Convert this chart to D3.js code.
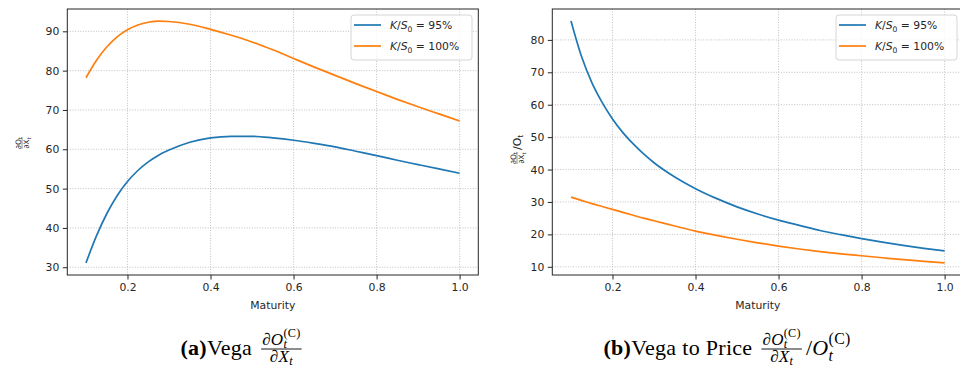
<!DOCTYPE html>
<html>
<head>
<meta charset="utf-8">
<script src="https://cdn.jsdelivr.net/npm/d3@7"></script>
<style>
    body { margin: 0; background: #fff; }
    svg { display: block; }
    text { font-family: "DejaVu Sans", sans-serif; fill: #262626; }
    .cap text { font-family: "Liberation Serif", serif; fill: #000; letter-spacing: 0.3px; }
</style>
</head>
<body>
<svg id="chart" width="960" height="367"></svg>
<script>
// values
const maturity = [0.1, 0.125, 0.15, 0.175, 0.2, 0.225, 0.25, 0.275, 0.3, 0.35, 0.4, 0.45, 0.5, 0.55, 0.6, 0.65, 0.7, 0.75, 0.8, 0.85, 0.9, 0.95, 1.0]

const vegaK95  = [31.1, 37.9, 43.6, 48.2, 51.8, 54.6, 56.8, 58.5, 59.8, 61.8, 62.9, 63.3, 63.3, 62.9, 62.3, 61.5, 60.6, 59.5, 58.4, 57.2, 56.1, 55.0, 53.9]
const vegaK100 = [78.2, 82.6, 86.0, 88.6, 90.4, 91.6, 92.3, 92.6, 92.5, 91.8, 90.5, 89.0, 87.3, 85.3, 83.1, 80.9, 78.8, 76.7, 74.7, 72.7, 70.8, 69.0, 67.2]

const ratioK95  = [85.8, 75.0, 66.9, 60.7, 55.6, 51.4, 47.9, 44.8, 42.1, 37.7, 34.1, 31.1, 28.5, 26.3, 24.4, 22.8, 21.2, 19.9, 18.7, 17.6, 16.6, 15.7, 14.9]
const ratioK100 = [31.5, 30.5, 29.5, 28.6, 27.7, 26.8, 25.9, 25.0, 24.2, 22.6, 21.0, 19.7, 18.5, 17.4, 16.4, 15.5, 14.7, 14.0, 13.4, 12.8, 12.2, 11.7, 11.2]

const seriesNames = ["95%", "100%"]
const xTicks = [0.2, 0.4, 0.6, 0.8, 1.0]
const yTicksVega = [30, 40, 50, 60, 70, 80, 90]
const yTicksRatio = [10, 20, 30, 40, 50, 60, 70, 80]

const colors = ["#1f77b4", "#ff7f0e"]

const svg = d3.select('#chart')

function padded(ext) {
    const p = (ext[1] - ext[0]) * 0.05
    return [ext[0] - p, ext[1] + p]
}

function drawPanel(cfg) {
    const g = svg.append('g')
    const x = d3.scaleLinear().domain(padded(d3.extent(maturity))).range([cfg.left, cfg.left + 411])
    const all = cfg.series.flat()
    const y = d3.scaleLinear().domain(padded(d3.extent(all))).range([cfg.bottom, cfg.top])

    // grid
    g.append('g').selectAll('line').data(xTicks).join('line')
        .attr('x1', d => x(d)).attr('x2', d => x(d))
        .attr('y1', cfg.top).attr('y2', cfg.bottom)
        .attr('stroke', '#b0b0b0').attr('stroke-width', 0.8).attr('stroke-dasharray', '1,1.6')
    g.append('g').selectAll('line').data(cfg.yTicks).join('line')
        .attr('x1', cfg.left).attr('x2', cfg.left + 411)
        .attr('y1', d => y(d)).attr('y2', d => y(d))
        .attr('stroke', '#b0b0b0').attr('stroke-width', 0.8).attr('stroke-dasharray', '1,1.6')

    const line = d3.line()
        .x((d, i) => x(maturity[i]))
        .y(d => y(d))
        .curve(d3.curveMonotoneX)

    cfg.series.forEach((s, i) => {
        g.append('path').datum(s)
            .attr('d', line)
            .attr('fill', 'none')
            .attr('stroke', colors[i])
            .attr('stroke-width', 1.7)
    })

    // frame
    g.append('rect')
        .attr('x', cfg.left).attr('y', cfg.top)
        .attr('width', 411).attr('height', cfg.bottom - cfg.top)
        .attr('fill', 'none').attr('stroke', '#262626').attr('stroke-width', 1)

    const xAxis = d3.axisBottom(x).tickValues(xTicks).tickFormat(d3.format('.1f')).tickSize(4.5).tickPadding(3.5)
    const yAxis = d3.axisLeft(y).tickValues(cfg.yTicks).tickFormat(d3.format('d')).tickSize(4.5).tickPadding(3.5)

    const xg = g.append('g').attr('transform', `translate(0, ${cfg.bottom})`).call(xAxis)
    const yg = g.append('g').attr('transform', `translate(${cfg.left}, 0)`).call(yAxis)
    ;[xg, yg].forEach(a => {
        a.select('.domain').remove()
        a.selectAll('line').attr('stroke', '#262626')
        a.selectAll('text').style('font-size', '10.8px').style('font-family', '"DejaVu Sans", sans-serif').attr('fill', '#262626')
    })

    g.append('text')
        .attr('x', cfg.left + 411 / 2).attr('y', 309)
        .attr('text-anchor', 'middle')
        .style('font-size', '10.8px')
        .text('Maturity')

    // legend
    const lx = cfg.left + 411 - 6.3 - 121
    const lg = g.append('g').attr('transform', `translate(${lx}, 15)`)
    lg.append('rect')
        .attr('width', 121).attr('height', 45).attr('rx', 3)
        .attr('fill', '#fff').attr('fill-opacity', 0.8)
        .attr('stroke', '#d6d6d6')
    seriesNames.forEach((n, i) => {
        const yy = 10 + i * 21
        lg.append('line').attr('x1', 3).attr('x2', 30).attr('y1', yy).attr('y2', yy)
            .attr('stroke', colors[i]).attr('stroke-width', 1.7)
        const t = lg.append('text').attr('x', 39).attr('y', yy + 4).style('font-size', '10.8px')
        t.append('tspan').style('font-style', 'italic').text('K')
        t.append('tspan').text('/')
        t.append('tspan').style('font-style', 'italic').text('S')
        t.append('tspan').attr('dy', 2.5).style('font-size', '7.6px').text('0')
        t.append('tspan').attr('dy', -2.5).text(' = ' + n)
    })
    return g
}

drawPanel({ left: 67.3, top: 9, bottom: 275, yTicks: yTicksVega, series: [vegaK95, vegaK100] })
drawPanel({ left: 552.3, top: 9, bottom: 275, yTicks: yTicksRatio, series: [ratioK95, ratioK100] })

// small rotated y labels
function smallFrac(g, fs) {
    const n = g.append('text').attr('text-anchor', 'middle').attr('y', -1.2).style('font-size', fs + 'px')
    n.append('tspan').text('∂O')
    n.append('tspan').attr('dy', fs * 0.2).style('font-size', fs * 0.7 + 'px').text('t')
    const d = g.append('text').attr('text-anchor', 'middle').attr('y', fs * 0.78 + 1.2).style('font-size', fs + 'px')
    d.append('tspan').text('∂X')
    d.append('tspan').attr('dy', fs * 0.2).style('font-size', fs * 0.7 + 'px').text('t')
    const w = Math.max(n.node().getComputedTextLength(), d.node().getComputedTextLength())
    g.append('line').attr('x1', -w / 2).attr('x2', w / 2).attr('y1', 0).attr('y2', 0)
        .attr('stroke', '#262626').attr('stroke-width', 0.5)
}

const yl1 = svg.append('g').attr('transform', 'translate(22, 143) rotate(-90)')
smallFrac(yl1, 7.5)

const yl2 = svg.append('g').attr('transform', 'translate(517, 150) rotate(-90)')
smallFrac(yl2.append('g').attr('transform', 'translate(-8, 0)'), 7.5)
const ot = yl2.append('text').attr('x', 0).attr('y', 3.8).style('font-size', '10.8px')
ot.append('tspan').text('/O')
ot.append('tspan').attr('dy', 2.5).style('font-size', '7.6px').text('t')

// captions
function run(g, x, y, fs, items, subOff) {
    let cx = x
    items.forEach(it => {
        if (it.sub !== undefined || it.sup !== undefined) {
            let w = 0
            if (it.sup) {
                const t = g.append('text').attr('x', cx).attr('y', y - fs * 0.5).style('font-size', fs * 0.72 + 'px').text(it.sup)
                w = Math.max(w, t.node().getComputedTextLength())
            }
            if (it.sub) {
                const t = g.append('text').attr('x', cx).attr('y', y + fs * (subOff || 0.25)).style('font-size', fs * 0.72 + 'px')
                    .style('font-style', 'italic').text(it.sub)
                w = Math.max(w, t.node().getComputedTextLength())
            }
            cx += w
        } else if (it.gap) {
            cx += it.gap
        } else {
            const t = g.append('text').attr('x', cx).attr('y', y).style('font-size', fs + 'px')
                .style('font-style', it.it ? 'italic' : null)
                .style('font-weight', it.b ? 'bold' : null)
                .text(it.t)
            cx += t.node().getComputedTextLength()
        }
    })
    return cx - x
}

function frac(g, x, y, fs, num, den) {
    const ng = g.append('g'), dg = g.append('g')
    const nw = run(ng, 0, y - 10, fs, num, 0.18)
    const dw = run(dg, 0, y + 6.5, fs, den, 0.2)
    const w = Math.max(nw, dw) + 2
    ng.attr('transform', `translate(${x + (w - nw) / 2}, 0)`)
    dg.attr('transform', `translate(${x + (w - dw) / 2}, 0)`)
    g.append('line').attr('x1', x).attr('x2', x + w).attr('y1', y - 6).attr('y2', y - 6)
        .attr('stroke', '#000').attr('stroke-width', 0.9)
    return w
}

const numO = [{ t: '∂' }, { t: 'O', it: true }, { sub: 't', sup: '(C)' }]
const denX = [{ t: '∂' }, { t: 'X', it: true }, { sub: 't' }]

function caption(cx, label, words, tail) {
    const g = svg.append('g').attr('class', 'cap')
    const base = 355
    let w = run(g, 0, base, 22, [{ t: '(' + label + ')', b: true }, { t: words }, { gap: 9 }])
    w += frac(g, w, base, 17, numO, denX)
    if (tail) w += run(g, w, base, 22, [{ gap: 4 }, { t: '/' }, { t: 'O', it: true }, { sub: 't', sup: '(C)' }])
    g.attr('transform', `translate(${cx - w / 2}, 0)`)
}

caption(241, 'a', 'Vega', false)
caption(727, 'b', 'Vega to Price', true)
</script>
</body>
</html>
